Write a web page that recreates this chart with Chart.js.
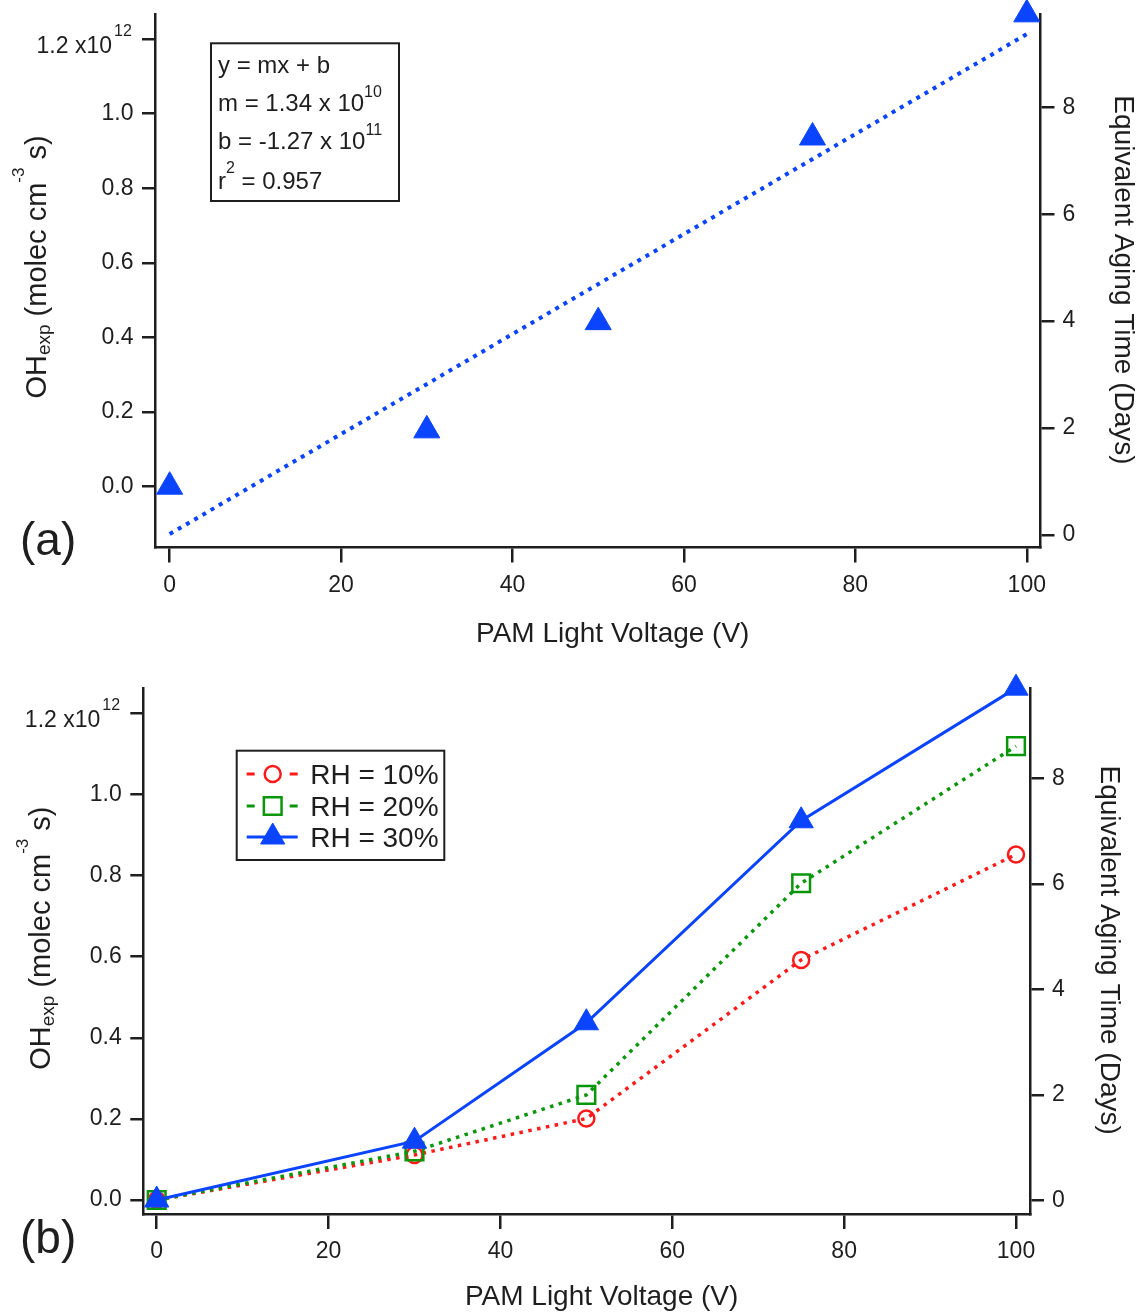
<!DOCTYPE html>
<html>
<head>
<meta charset="utf-8">
<title>OH exposure vs PAM light voltage</title>
<script src="https://cdn.jsdelivr.net/npm/chart.js@4.4.1/dist/chart.umd.min.js"></script>
<style>
  html, body { margin: 0; padding: 0; background: #fff; }
  #wrap { position: relative; width: 1141px; height: 1316px; }
  .panel { position: absolute; left: 0; width: 1141px; }
  #panelA { top: 0; height: 655px; }
  #panelB { top: 655px; height: 661px; }
</style>
</head>
<body>
<div id="wrap">
  <div class="panel" id="panelA"><canvas id="chartA"></canvas></div>
  <div class="panel" id="panelB"><canvas id="chartB"></canvas></div>
</div>
<script>
// colours / font
const BLUE = '#0a44ff';
const RED = '#ff1a1a';
const GREEN = '#0a960a';
const INK = '#1e1e1e';
const FONT = "'Liberation Sans', Arial, sans-serif";

// panel (a) - OHexp in units of 10^12 molec cm-3 s
const voltage = [0, 30, 50, 75, 100];
const ohExpA = [0.0, 0.151, 0.441, 0.936, 1.266];
const fitVoltage = [0, 100];
const fitOhExp = [-0.127, 1.213];

// panel (b)
const rhLabels = ['RH = 10%', 'RH = 20%', 'RH = 30%'];
const ohExpRH10 = [0.0, 0.111, 0.201, 0.592, 0.852];
const ohExpRH20 = [0.0, 0.120, 0.259, 0.781, 1.119];
const ohExpRH30 = [0.0, 0.145, 0.437, 0.935, 1.262];

// ticks and texts
const xTickValues = [0, 20, 40, 60, 80, 100];
const ohTickValues = [0, 0.2, 0.4, 0.6, 0.8, 1.0, 1.2];
const ohExponent = '12';
const dayTickValues = [0, 2, 4, 6, 8];
const xTitle = 'PAM Light Voltage (V)';
const rightTitle = 'Equivalent Aging Time (Days)';
const leftTitleParts = [
    { t: 'OH', size: 29 },
    { t: 'exp', size: 19, dy: 4 },
    { t: ' (molec cm', size: 29 },
    { t: '-3', size: 17, dy: -22 },
    { t: ' s)', size: 29 }
];
const fitLines = [
    [{ t: 'y = mx + b', size: 24 }],
    [{ t: 'm = 1.34 x 10', size: 24 }, { t: '10', size: 16, dy: -14 }],
    [{ t: 'b = -1.27 x 10', size: 24 }, { t: '11', size: 16, dy: -14 }],
    [{ t: 'r', size: 24 }, { t: '2', size: 16, dy: -16 }, { t: ' = 0.957', size: 24 }]
];

Chart.defaults.font.family = FONT;
Chart.defaults.color = INK;

function toPoints(xs, ys) {
    return xs.map((x, i) => ({ x: x, y: ys[i] }));
}

// rich text helpers (sub / superscripts)
function richWidth(ctx, parts) {
    let w = 0;
    parts.forEach(p => {
        ctx.font = p.size + 'px ' + FONT;
        w += ctx.measureText(p.t).width;
    });
    return w;
}
function drawRich(ctx, parts, x, y) {
    let cx = x;
    parts.forEach(p => {
        ctx.font = p.size + 'px ' + FONT;
        ctx.fillText(p.t, cx, y + (p.dy || 0));
        cx += ctx.measureText(p.t).width;
    });
}

function drawFitBox(ctx, area) {
    const left = area.left + 56, top = area.top + 28.8;
    ctx.strokeStyle = INK;
    ctx.lineWidth = 2;
    ctx.strokeRect(left, top, 188, 157.7);
    const baselines = [29.7, 67.7, 105.2, 145.7];
    ctx.textAlign = 'left';
    fitLines.forEach((parts, i) => drawRich(ctx, parts, left + 7, top + baselines[i]));
}

function drawLegend(chart, area) {
    const ctx = chart.ctx;
    const left = area.left + 93.4, top = area.top + 62.4;
    ctx.strokeStyle = INK;
    ctx.lineWidth = 2;
    ctx.strokeRect(left, top, 207.6, 109.3);
    const rows = [23.3, 55.3, 86.3];
    chart.data.datasets.forEach((ds, i) => {
        const y = top + rows[i];
        const x0 = left + 10, x1 = left + 61, xm = left + 36;
        ctx.strokeStyle = ds.borderColor;
        ctx.lineWidth = 3;
        ctx.setLineDash([]);
        ctx.beginPath();
        if (ds.borderDash) {
            ctx.moveTo(x0, y); ctx.lineTo(x0 + 8, y);
            ctx.moveTo(x1 - 8, y); ctx.lineTo(x1, y);
        } else {
            ctx.moveTo(x0, y); ctx.lineTo(x1, y);
        }
        ctx.stroke();
        ctx.fillStyle = ds.pointBackgroundColor;
        ctx.strokeStyle = ds.pointBorderColor;
        ctx.lineWidth = ds.pointBorderWidth;
        Chart.helpers.drawPoint(ctx, {
            pointStyle: ds.pointStyle, radius: ds.pointRadius,
            rotation: 0, borderWidth: ds.pointBorderWidth
        }, xm, y);
        ctx.fillStyle = INK;
        ctx.font = '28px ' + FONT;
        ctx.textAlign = 'left';
        ctx.fillText(ds.label, left + 73.5, y + 10);
    });
}

// titles, exponent label, panel tag, box / legend
const decorPlugin = {
    id: 'decor',
    afterDraw(chart, args, opts) {
        const ctx = chart.ctx;
        const area = chart.chartArea;
        const midY = (area.top + area.bottom) / 2;
        ctx.save();
        ctx.fillStyle = INK;
        ctx.textBaseline = 'alphabetic';

        ctx.font = '28px ' + FONT;
        ctx.textAlign = 'center';
        ctx.fillText(xTitle, (area.left + area.right) / 2 + 15, area.bottom + opts.xTitleDy);

        ctx.save();
        ctx.translate(area.right + opts.rightTitleDx, midY - 1);
        ctx.rotate(Math.PI / 2);
        ctx.fillText(rightTitle, 0, 0);
        ctx.restore();

        ctx.textAlign = 'left';
        const w = richWidth(ctx, leftTitleParts);
        ctx.save();
        ctx.translate(opts.leftTitleX, midY + opts.leftTitleDy);
        ctx.rotate(-Math.PI / 2);
        drawRich(ctx, leftTitleParts, -w / 2, 0);
        ctx.restore();

        // top tick label carries the exponent
        const topTick = ohTickValues[ohTickValues.length - 1];
        const py = chart.scales.y.getPixelForValue(topTick);
        ctx.font = '23px ' + FONT;
        ctx.textAlign = 'right';
        ctx.fillText(topTick.toFixed(1) + ' x10', area.left - 43, py + 14);
        ctx.textAlign = 'left';
        ctx.font = '16px ' + FONT;
        ctx.fillText(ohExponent, area.left - 41, py - 3);

        ctx.font = '46px ' + FONT;
        ctx.fillText(opts.tag, 20, area.bottom + opts.tagDy);

        if (opts.fitBox) drawFitBox(ctx, area);
        if (opts.legend) drawLegend(chart, area);
        ctx.restore();
    }
};

// fixed scale sizes so the plot frame lands where the figure has it
function fixSize(s, prop, val) {
    s[prop] = val;
    s.paddingTop = 0; s.paddingBottom = 0;
    s.paddingLeft = 0; s.paddingRight = 0;
}

function makeScales(r) {
    const tickGrid = len => ({ drawOnChartArea: false, drawTicks: true, tickLength: len, color: INK, lineWidth: 2.5 });
    const border = { display: true, color: INK, width: 2.5 };
    return {
        x: {
            type: 'linear', position: 'bottom', min: r.xMin, max: r.xMax,
            afterBuildTicks: s => { s.ticks = xTickValues.map(v => ({ value: v })); },
            afterFit: s => fixSize(s, 'height', r.xHeight),
            ticks: { font: { size: 23 }, padding: 9, color: INK, maxRotation: 0 },
            grid: tickGrid(15), border: border
        },
        y: {
            type: 'linear', position: 'left', min: r.yMin, max: r.yMax,
            afterBuildTicks: s => { s.ticks = ohTickValues.map(v => ({ value: v })); },
            afterFit: s => fixSize(s, 'width', r.leftWidth),
            ticks: {
                font: { size: 23 }, padding: 8.5, color: INK,
                callback: v => (Math.abs(v - ohTickValues[ohTickValues.length - 1]) < 1e-9 ? '' : v.toFixed(1))
            },
            grid: tickGrid(13), border: border
        },
        days: {
            type: 'linear', position: 'right', min: r.dMin, max: r.dMax,
            afterBuildTicks: s => { s.ticks = dayTickValues.map(v => ({ value: v })); },
            afterFit: s => fixSize(s, 'width', r.rightWidth),
            ticks: { font: { size: 23 }, padding: 8, color: INK },
            grid: tickGrid(14), border: border
        }
    };
}

function baseOptions(r, decor) {
    return {
        responsive: true,
        maintainAspectRatio: false,
        devicePixelRatio: 1,
        animation: false,
        events: [],
        layout: { autoPadding: false, padding: { top: r.padTop, left: 0, right: 0, bottom: 0 } },
        scales: makeScales(r),
        plugins: { legend: { display: false }, tooltip: { enabled: false }, decor: decor }
    };
}

// panel (a)
new Chart(document.getElementById('chartA'), {
    type: 'scatter',
    data: {
        datasets: [
            {
                label: 'OHexp', data: toPoints(voltage, ohExpA), showLine: false,
                pointStyle: 'triangle', pointRadius: 15,
                pointBackgroundColor: BLUE, pointBorderColor: BLUE, pointBorderWidth: 1,
                clip: false, order: 1
            },
            {
                label: 'fit', data: toPoints(fitVoltage, fitOhExp), showLine: true,
                borderColor: BLUE, borderWidth: 4, borderDash: [4, 5.5],
                pointRadius: 0, clip: false, order: 2
            }
        ]
    },
    options: baseOptions(
        { xMin: -1.71, xMax: 101.6, yMin: -0.163, yMax: 1.2656, dMin: -0.234, dMax: 9.736,
          padTop: 14.5, xHeight: 107.5, leftWidth: 155, rightWidth: 100.5 },
        { xTitleDy: 94.5, rightTitleDx: 74.5, leftTitleX: 46, leftTitleDy: -14, tag: '(a)', tagDy: 7.5, fitBox: true }
    ),
    plugins: [decorPlugin]
});

// panel (b)
new Chart(document.getElementById('chartB'), {
    type: 'scatter',
    data: {
        datasets: [
            {
                label: rhLabels[0], data: toPoints(voltage, ohExpRH10), showLine: true,
                borderColor: RED, borderWidth: 3.5, borderDash: [3.5, 5.5],
                pointStyle: 'circle', pointRadius: 8,
                pointBackgroundColor: 'rgba(0,0,0,0)', pointBorderColor: RED, pointBorderWidth: 2.5,
                clip: false, order: 3
            },
            {
                label: rhLabels[1], data: toPoints(voltage, ohExpRH20), showLine: true,
                borderColor: GREEN, borderWidth: 3.5, borderDash: [3.5, 5.5],
                pointStyle: 'rect', pointRadius: 12.5,
                pointBackgroundColor: 'rgba(0,0,0,0)', pointBorderColor: GREEN, pointBorderWidth: 2.5,
                clip: false, order: 2
            },
            {
                label: rhLabels[2], data: toPoints(voltage, ohExpRH30), showLine: true,
                borderColor: BLUE, borderWidth: 3,
                pointStyle: 'triangle', pointRadius: 14,
                pointBackgroundColor: BLUE, pointBorderColor: BLUE, pointBorderWidth: 1,
                clip: false, order: 1
            }
        ]
    },
    options: baseOptions(
        { xMin: -1.56, xMax: 101.63, yMin: -0.0345, yMax: 1.2616, dMin: -0.252, dMax: 9.705,
          padTop: 33.3, xHeight: 102, leftWidth: 143.3, rightWidth: 111 },
        { xTitleDy: 91, rightTitleDx: 71, leftTitleX: 50, leftTitleDy: -13, tag: '(b)', tagDy: 39, legend: true }
    ),
    plugins: [decorPlugin]
});
</script>
</body>
</html>
